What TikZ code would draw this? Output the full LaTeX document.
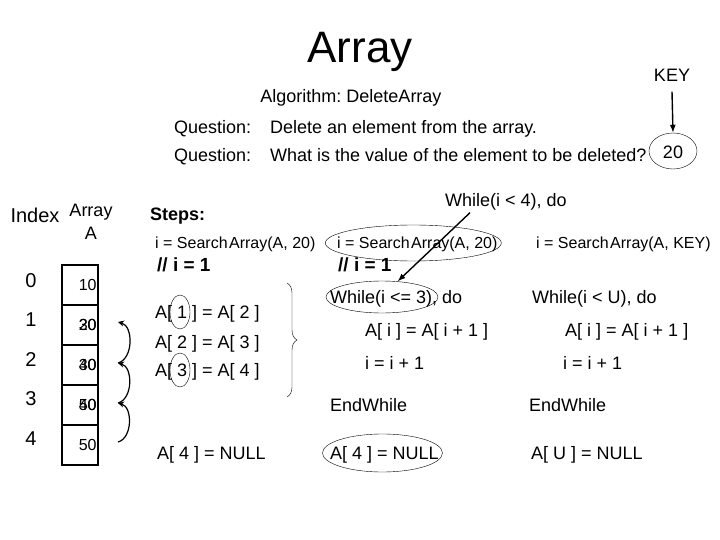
\documentclass[tikz,border=0pt]{standalone}
\usepackage{fontspec}
\setmainfont{Liberation Sans}
\usetikzlibrary{decorations.pathreplacing,arrows.meta,shapes.geometric}
\frenchspacing

\begin{document}
\begin{tikzpicture}[x=1pt, y=-1pt,
    big/.style={font=\fontsize{18}{21}\selectfont, text height=13pt, text depth=0pt, inner sep=0pt},
    thin/.style={font=\fontsize{16}{19}\selectfont, text height=11.5pt, text depth=0pt, inner sep=0pt},
    num/.style={font=\fontsize{20}{23}\selectfont, text height=14.5pt, text depth=0pt, inner sep=0pt},
    code/.style={big, anchor=west},
    ring/.style={draw, ellipse, inner sep=0pt},
    cell/.style={draw, line width=1.6pt, minimum width=36pt, minimum height=40pt, inner sep=0pt},
    val/.style={thin, anchor=east},
    movearrow/.style={-{Stealth[length=6pt, width=6pt]}, line width=1.2pt},
    pointer/.style={-{Latex[length=8pt, width=6pt]}, line width=1.4pt}]
    \useasboundingbox (0,0) rectangle (720,540);
    % Header
    \node (title) at (360, 63) [anchor=base, inner sep=0pt, font=\fontsize{44}{50}\selectfont] {Array};
    \node (algo) at (351, 96) [big] {Algorithm: DeleteArray};
    \node (q1) at (174, 127) [code] {Question:};
    \node (q2) at (174, 155) [code] {Question:};
    \node (t1) at (270, 127) [code] {Delete an element from the array.};
    \node (t2) at (270, 155) [code] {What is the value of the element to be deleted?};
    \node (key) at (672, 75) [big] {KEY};
    \node (k20) at (673, 152) [big] {20};
    \node (k20ring) at (673, 151) [ring, minimum width=48pt, minimum height=36pt] {};
    \draw[pointer] (key.south) ++(0,-10pt) -- (k20ring.north);
    % Array
    \node (index) at (35, 215) [num] {Index};
    \node (arr) at (91, 210) [big] {Array};
    \node (arrA) at (91, 233) [big] {A};
    \foreach \i in {0,...,4} {
        \node (c\i) at (80, 285+40*\i) [cell] {};
        \node (i\i) at (31, 280+39.5*\i) [num] {\i};
    }
    \node (v0) at ([xshift=-2pt]c0.east) [val] {10};
    \node (v1) at ([xshift=-2pt]c1.east) [val] {20};
    \node (v1b) at ([xshift=-2pt]c1.east) [val] {30};
    \node (v2) at ([xshift=-2pt]c2.east) [val] {30};
    \node (v2b) at ([xshift=-2pt]c2.east) [val] {40};
    \node (v3) at ([xshift=-2pt]c3.east) [val] {40};
    \node (v3b) at ([xshift=-2pt]c3.east) [val] {50};
    \node (v4) at ([xshift=-2pt]c4.east) [val] {50};
    % Shifts
    \coordinate (m0) at (118, 442);
    \coordinate (m1) at (118, 403);
    \coordinate (m2) at (118, 363);
    \coordinate (m3) at (118, 322);
    \draw[movearrow] (m0) to[bend right=75] (m1);
    \draw[movearrow] (m1) to[bend right=75] (m2);
    \draw[movearrow] (m2) to[bend right=75] (m3);
    % Steps
    \node (steps) at (150, 214) [code, font=\fontsize{18}{21}\selectfont\bfseries] {Steps:};
    \node (s1) at (155, 243) [thin, anchor=west] {i = Search\kern1.5pt Array(A, 20)};
    \node (c1) at (157, 265) [code, font=\fontsize{19}{22}\selectfont\bfseries] {// i = 1};
    \node (a1) at (155, 312) [code] {A[ 1 ] = A[ 2 ]};
    \node (a2) at (155, 342) [code] {A[ 2 ] = A[ 3 ]};
    \node (a3) at (155, 370) [code] {A[ 3 ] = A[ 4 ]};
    \node (o1) at ([xshift=25pt]a1.west) [ring, minimum width=20pt, minimum height=34pt] {};
    \node (o3) at ([xshift=25pt]a3.west) [ring, minimum width=20pt, minimum height=34pt] {};
    \coordinate (bt) at (287, 283);
    \coordinate (bb) at (287, 397);
    \draw[decorate, decoration={brace, amplitude=10pt}] (bt) -- (bb);
    \node (n1) at (157, 453) [code] {A[ 4 ] = NULL};
    % Loop
    \node (s2) at (337, 243) [thin, anchor=west] {i = Search\kern1.5pt Array(A, 20)};
    \node (s2ring) at ([xshift=-4pt]s2.center) [ring, minimum width=176pt, minimum height=36pt] {};
    \node (c2) at (338, 265) [code, font=\fontsize{19}{22}\selectfont\bfseries] {// i = 1};
    \node (w3) at (330, 297) [code] {While(i <= 3), do};
    \node (w3ring) at (382, 297) [ring, minimum width=112pt, minimum height=32pt] {};
    \node (b2) at (365, 330) [code] {A[ i ] = A[ i + 1 ]};
    \node (p2) at (365, 363) [code] {i = i + 1};
    \node (e2) at (330, 405) [code] {EndWhile};
    \node (n2) at (330, 453) [code] {A[ 4 ] = NULL};
    \node (n2ring) at ([xshift=-2pt]n2.center) [ring, minimum width=120pt, minimum height=38pt] {};
    % General
    \node (w4) at (445, 200) [code] {While(i < 4), do};
    \draw[pointer] ([xshift=25pt, yshift=-6pt]w4.south west) -- (w3ring.45);
    \node (s3) at (536, 243) [thin, anchor=west] {i = Search\kern1.5pt Array(A, KEY)};
    \node (w5) at (532, 297) [code] {While(i < U), do};
    \node (b3) at (565, 330) [code] {A[ i ] = A[ i + 1 ]};
    \node (p3) at (563, 363) [code] {i = i + 1};
    \node (e3) at (529, 405) [code] {EndWhile};
    \node (n3) at (531, 453) [code] {A[ U ] = NULL};
\end{tikzpicture}
\end{document}
